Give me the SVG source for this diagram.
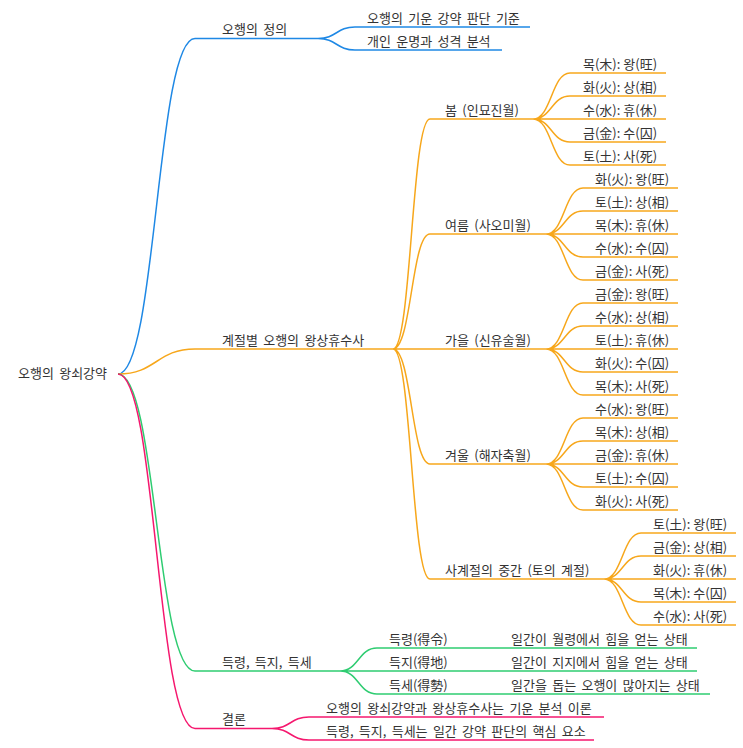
<svg xmlns="http://www.w3.org/2000/svg" width="743" height="748" viewBox="0 0 743 748">
<style>
text{font-family:"Noto Sans CJK KR","Noto Sans",sans-serif;font-size:13px;fill:#333;word-spacing:2.4px}
text.l{word-spacing:0}
path,line{fill:none;stroke-width:1.5}
.b{stroke:#1E88E5}.o{stroke:#F7A71B}.g{stroke:#2ECC71}.p{stroke:#F5176E}
</style>
<rect width="743" height="748" fill="#fff"/>
<g id="connectors">
<path class="b" d="M118 374C156.5 374 156.5 38.5 195 38.5"/>
<path class="o" d="M118 374C156.5 374 156.5 349 195 349"/>
<path class="g" d="M118 374C156.5 374 156.5 671 195 671"/>
<path class="p" d="M118 374C156.5 374 156.5 728.5 195 728.5"/>
<path class="b" d="M318 38.5C336.5 38.5 336.5 27 355 27M318 38.5C336.5 38.5 336.5 50 355 50"/>
<path class="o" d="M393 349C411.5 349 411.5 119 430 119M393 349C411.5 349 411.5 234 430 234M393 349L430 349M393 349C411.5 349 411.5 464 430 464M393 349C411.5 349 411.5 579 430 579"/>
<path class="o" d="M533 119C551.5 119 551.5 73 570 73M533 119C551.5 119 551.5 96 570 96M533 119L570 119M533 119C551.5 119 551.5 142 570 142M533 119C551.5 119 551.5 165 570 165"/>
<path class="o" d="M546 234C564.5 234 564.5 188 583 188M546 234C564.5 234 564.5 211 583 211M546 234L583 234M546 234C564.5 234 564.5 257 583 257M546 234C564.5 234 564.5 280 583 280"/>
<path class="o" d="M546 349C564.5 349 564.5 303 583 303M546 349C564.5 349 564.5 326 583 326M546 349L583 349M546 349C564.5 349 564.5 372 583 372M546 349C564.5 349 564.5 395 583 395"/>
<path class="o" d="M546 464C564.5 464 564.5 418 583 418M546 464C564.5 464 564.5 441 583 441M546 464L583 464M546 464C564.5 464 564.5 487 583 487M546 464C564.5 464 564.5 510 583 510"/>
<path class="o" d="M604 579C622.5 579 622.5 533 641 533M604 579C622.5 579 622.5 556 641 556M604 579L641 579M604 579C622.5 579 622.5 602 641 602M604 579C622.5 579 622.5 625 641 625"/>
<path class="g" d="M340 671C358.5 671 358.5 648 377 648M340 671L377 671M340 671C358.5 671 358.5 694 377 694"/>
<path class="g" d="M462 648L499 648M462 671L499 671M462 694L499 694"/>
<path class="p" d="M272 728.5C290.5 728.5 290.5 717 309 717M272 728.5C290.5 728.5 290.5 740 309 740"/>
</g>
<g id="root"><text x="18" y="378">오행의 왕쇠강약</text></g>
<g id="n-def"><line class="b" x1="195" y1="38.5" x2="318" y2="38.5"/><text x="222" y="34">오행의 정의</text></g>
<g id="n-def-1"><line class="b" x1="355" y1="27" x2="530" y2="27"/><text x="367" y="22.5">오행의 기운 강약 판단 기준</text></g>
<g id="n-def-2"><line class="b" x1="355" y1="50" x2="502" y2="50"/><text x="367" y="45.5">개인 운명과 성격 분석</text></g>
<g id="n-season"><line class="o" x1="195" y1="349" x2="393" y2="349"/><text x="222" y="344.5">계절별 오행의 왕상휴수사</text></g>
<g id="n-spring"><line class="o" x1="430" y1="119" x2="533" y2="119"/><text x="445" y="114.5">봄 (인묘진월)</text></g>
<g id="n-spring-1"><line class="o" x1="570" y1="73" x2="666" y2="73"/><text class="l" x="583" y="68.5">목(木): 왕(旺)</text></g>
<g id="n-spring-2"><line class="o" x1="570" y1="96" x2="666" y2="96"/><text class="l" x="583" y="91.5">화(火): 상(相)</text></g>
<g id="n-spring-3"><line class="o" x1="570" y1="119" x2="666" y2="119"/><text class="l" x="583" y="114.5">수(水): 휴(休)</text></g>
<g id="n-spring-4"><line class="o" x1="570" y1="142" x2="666" y2="142"/><text class="l" x="583" y="137.5">금(金): 수(囚)</text></g>
<g id="n-spring-5"><line class="o" x1="570" y1="165" x2="666" y2="165"/><text class="l" x="583" y="160.5">토(土): 사(死)</text></g>
<g id="n-summer"><line class="o" x1="430" y1="234" x2="546" y2="234"/><text x="445" y="229.5">여름 (사오미월)</text></g>
<g id="n-summer-1"><line class="o" x1="583" y1="188" x2="678" y2="188"/><text class="l" x="595" y="183.5">화(火): 왕(旺)</text></g>
<g id="n-summer-2"><line class="o" x1="583" y1="211" x2="678" y2="211"/><text class="l" x="595" y="206.5">토(土): 상(相)</text></g>
<g id="n-summer-3"><line class="o" x1="583" y1="234" x2="678" y2="234"/><text class="l" x="595" y="229.5">목(木): 휴(休)</text></g>
<g id="n-summer-4"><line class="o" x1="583" y1="257" x2="678" y2="257"/><text class="l" x="595" y="252.5">수(水): 수(囚)</text></g>
<g id="n-summer-5"><line class="o" x1="583" y1="280" x2="678" y2="280"/><text class="l" x="595" y="275.5">금(金): 사(死)</text></g>
<g id="n-autumn"><line class="o" x1="430" y1="349" x2="546" y2="349"/><text x="445" y="344.5">가을 (신유술월)</text></g>
<g id="n-autumn-1"><line class="o" x1="583" y1="303" x2="678" y2="303"/><text class="l" x="595" y="298.5">금(金): 왕(旺)</text></g>
<g id="n-autumn-2"><line class="o" x1="583" y1="326" x2="678" y2="326"/><text class="l" x="595" y="321.5">수(水): 상(相)</text></g>
<g id="n-autumn-3"><line class="o" x1="583" y1="349" x2="678" y2="349"/><text class="l" x="595" y="344.5">토(土): 휴(休)</text></g>
<g id="n-autumn-4"><line class="o" x1="583" y1="372" x2="678" y2="372"/><text class="l" x="595" y="367.5">화(火): 수(囚)</text></g>
<g id="n-autumn-5"><line class="o" x1="583" y1="395" x2="678" y2="395"/><text class="l" x="595" y="390.5">목(木): 사(死)</text></g>
<g id="n-winter"><line class="o" x1="430" y1="464" x2="546" y2="464"/><text x="445" y="459.5">겨울 (해자축월)</text></g>
<g id="n-winter-1"><line class="o" x1="583" y1="418" x2="678" y2="418"/><text class="l" x="595" y="413.5">수(水): 왕(旺)</text></g>
<g id="n-winter-2"><line class="o" x1="583" y1="441" x2="678" y2="441"/><text class="l" x="595" y="436.5">목(木): 상(相)</text></g>
<g id="n-winter-3"><line class="o" x1="583" y1="464" x2="678" y2="464"/><text class="l" x="595" y="459.5">금(金): 휴(休)</text></g>
<g id="n-winter-4"><line class="o" x1="583" y1="487" x2="678" y2="487"/><text class="l" x="595" y="482.5">토(土): 수(囚)</text></g>
<g id="n-winter-5"><line class="o" x1="583" y1="510" x2="678" y2="510"/><text class="l" x="595" y="505.5">화(火): 사(死)</text></g>
<g id="n-middle"><line class="o" x1="430" y1="579" x2="604" y2="579"/><text x="445" y="574.5">사계절의 중간 (토의 계절)</text></g>
<g id="n-middle-1"><line class="o" x1="641" y1="533" x2="736" y2="533"/><text class="l" x="653" y="528.5">토(土): 왕(旺)</text></g>
<g id="n-middle-2"><line class="o" x1="641" y1="556" x2="736" y2="556"/><text class="l" x="653" y="551.5">금(金): 상(相)</text></g>
<g id="n-middle-3"><line class="o" x1="641" y1="579" x2="736" y2="579"/><text class="l" x="653" y="574.5">화(火): 휴(休)</text></g>
<g id="n-middle-4"><line class="o" x1="641" y1="602" x2="736" y2="602"/><text class="l" x="653" y="597.5">목(木): 수(囚)</text></g>
<g id="n-middle-5"><line class="o" x1="641" y1="625" x2="736" y2="625"/><text class="l" x="653" y="620.5">수(水): 사(死)</text></g>
<g id="n-deuk"><line class="g" x1="195" y1="671" x2="340" y2="671"/><text x="222" y="666.5">득령, 득지, 득세</text></g>
<g id="n-deuk-1"><line class="g" x1="377" y1="648" x2="462" y2="648"/><text x="389" y="643.5">득령(得令)</text></g>
<g id="n-deuk-1a"><line class="g" x1="499" y1="648" x2="697" y2="648"/><text x="511" y="643.5">일간이 월령에서 힘을 얻는 상태</text></g>
<g id="n-deuk-2"><line class="g" x1="377" y1="671" x2="462" y2="671"/><text x="389" y="666.5">득지(得地)</text></g>
<g id="n-deuk-2a"><line class="g" x1="499" y1="671" x2="697" y2="671"/><text x="511" y="666.5">일간이 지지에서 힘을 얻는 상태</text></g>
<g id="n-deuk-3"><line class="g" x1="377" y1="694" x2="462" y2="694"/><text x="389" y="689.5">득세(得勢)</text></g>
<g id="n-deuk-3a"><line class="g" x1="499" y1="694" x2="710" y2="694"/><text x="511" y="689.5">일간을 돕는 오행이 많아지는 상태</text></g>
<g id="n-concl"><line class="p" x1="195" y1="728.5" x2="272" y2="728.5"/><text x="222" y="724">결론</text></g>
<g id="n-concl-1"><line class="p" x1="309" y1="717" x2="604" y2="717"/><text x="326" y="712.5">오행의 왕쇠강약과 왕상휴수사는 기운 분석 이론</text></g>
<g id="n-concl-2"><line class="p" x1="309" y1="740" x2="594" y2="740"/><text x="326" y="735.5">득령, 득지, 득세는 일간 강약 판단의 핵심 요소</text></g>
</svg>
